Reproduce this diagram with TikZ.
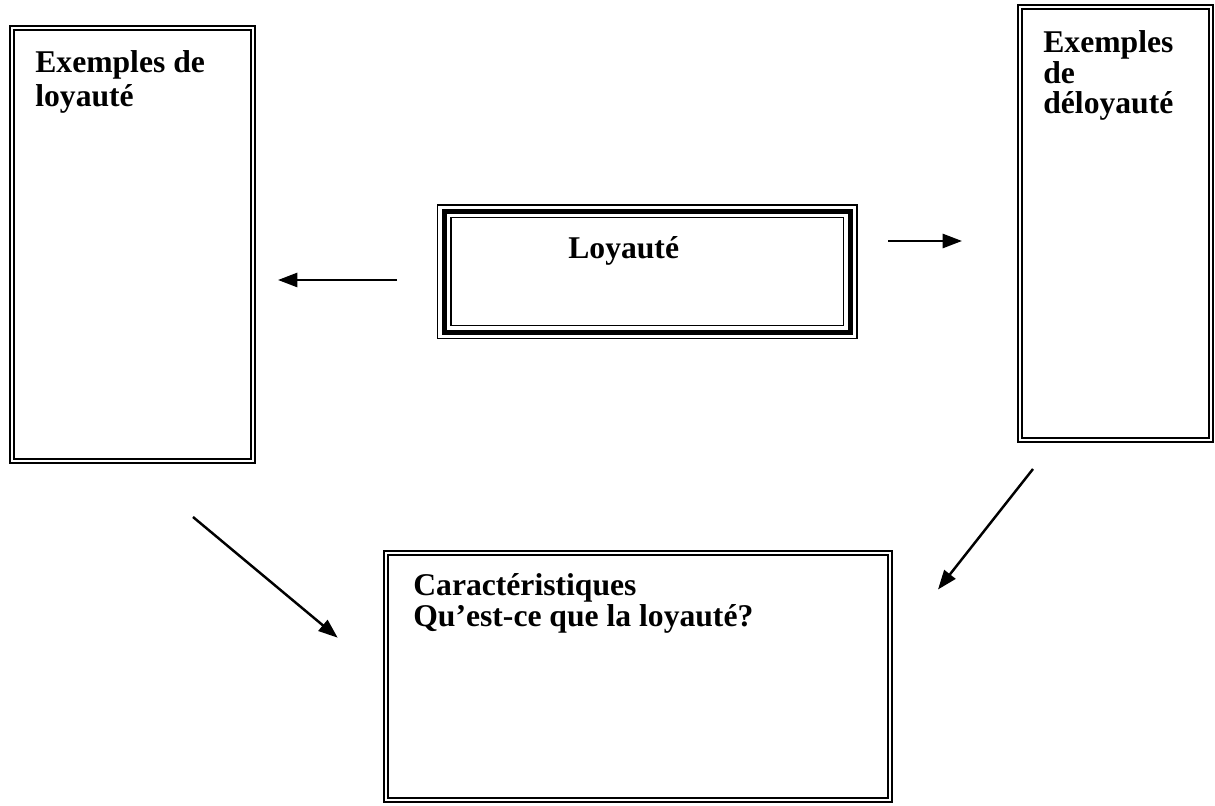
\documentclass[tikz,border=0pt]{standalone}
\usepackage{fontspec}
\setmainfont{Liberation Serif}
\usepackage{tikz}
\usetikzlibrary{arrows.meta, positioning, calc}

\begin{document}
\begin{tikzpicture}[
  framebox/.style={draw, line width=1.6pt, inner sep=0pt, minimum width=#1},
  innerline/.style={draw, line width=1.1pt},
  boxtext/.style={anchor=north west, inner sep=0pt, align=left, font=\fontsize{18}{17.5}\selectfont\bfseries},
  linkarrow/.style={-{Triangle[length=11pt, width=8pt]}, line width=1.4pt}
]
  \useasboundingbox (0,0) rectangle (24.3,-16.12);

  % boxes
  \node[framebox=4.9cm, minimum height=8.74cm] (loyal) at (2.65,-4.89) {};
  \node[framebox=3.9cm, minimum height=8.74cm] (disloyal) at (22.31,-4.47) {};
  \node[framebox=8.39cm, minimum height=2.67cm, line width=0.8pt] (theme) at (12.945,-5.435) {};
  \node[framebox=10.16cm, minimum height=5.02cm, line width=1.3pt] (traits) at (12.76,-13.53) {};

  % inner frames
  \foreach \b in {loyal, disloyal, traits}
    \draw[innerline] ([shift={(0.1,-0.1)}]\b.north west) rectangle ([shift={(-0.1,0.1)}]\b.south east);
  \draw[line width=2.8pt] ([shift={(0.145,-0.14)}]theme.north west) rectangle ([shift={(-0.145,0.14)}]theme.south east);
  \draw[line width=0.8pt] ([shift={(0.28,-0.27)}]theme.north west) rectangle ([shift={(-0.28,0.27)}]theme.south east);

  % texts
  \node[boxtext] (loyaltxt) at (0.7,-1.0) {Exemples de\\[2pt]loyauté};
  \node[boxtext] (disloyaltxt) at (20.86,-0.6) {Exemples\\de\\déloyauté};
  \node[boxtext] (themetxt) at (11.36,-4.72) {Loyauté};
  \node[boxtext] (traitstxt) at (8.26,-11.46) {Caractéristiques\\Qu’est-ce que la loyauté?};

  % arrows
  \coordinate (a1) at (7.94,-5.6);
  \coordinate (a2) at (5.56,-5.6);
  \coordinate (b1) at (17.76,-4.82);
  \coordinate (b2) at (19.24,-4.82);
  \coordinate (c1) at (3.86,-10.34);
  \coordinate (c2) at (6.754,-12.754);
  \coordinate (d1) at (20.66,-9.38);
  \coordinate (d2) at (18.76,-11.79);
  \draw[linkarrow] (a1) -- (a2);
  \draw[linkarrow] (b1) -- (b2);
  \draw[linkarrow] (c1) -- (c2);
  \draw[linkarrow] (d1) -- (d2);
\end{tikzpicture}
\end{document}
